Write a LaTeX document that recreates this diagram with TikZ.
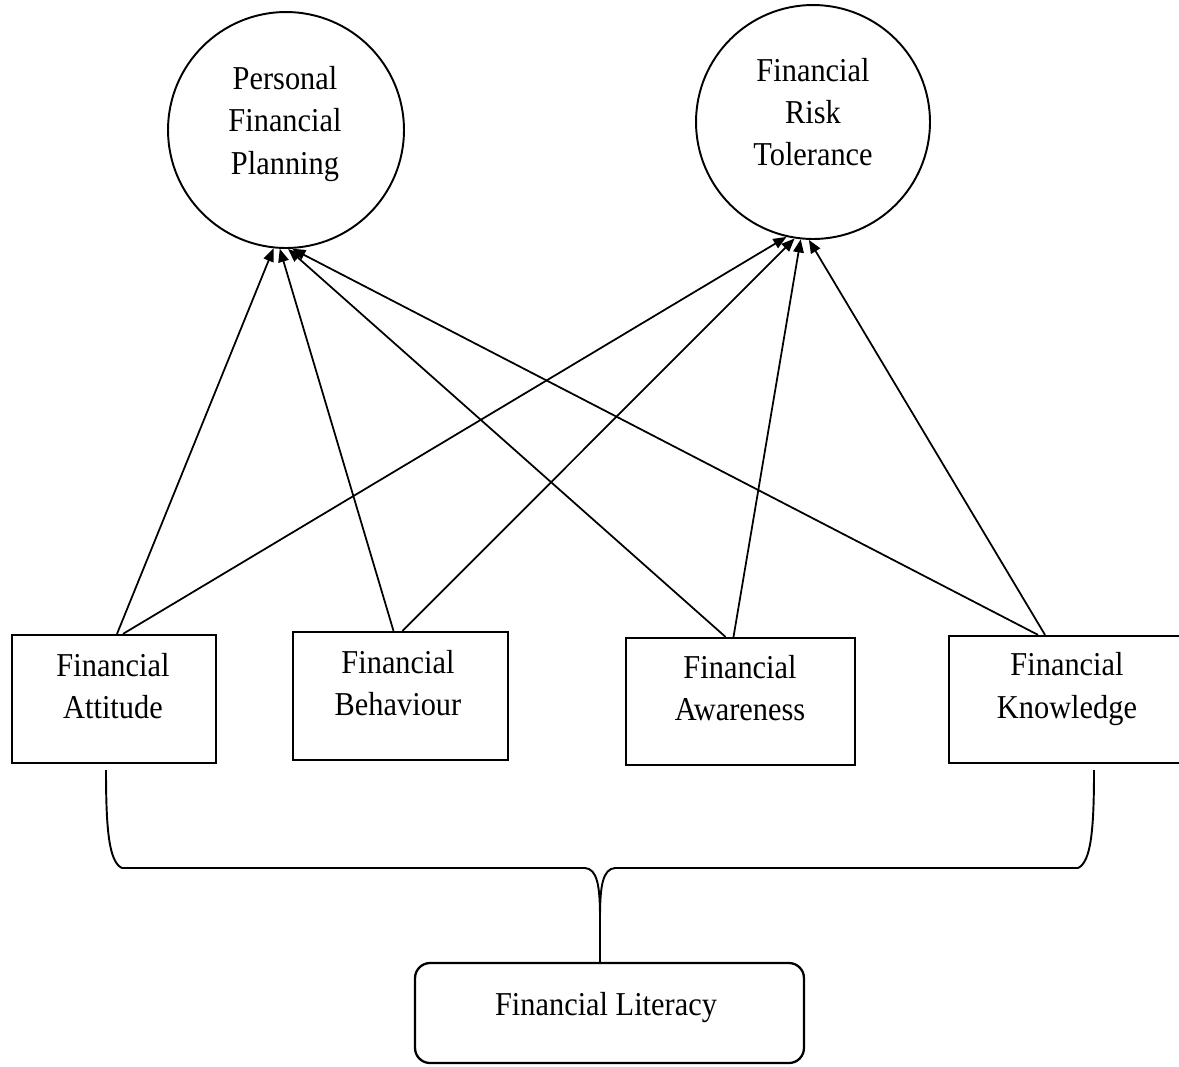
\documentclass[tikz,border=0pt]{standalone}
\usepackage{fontspec}
\setmainfont{Liberation Serif}[FakeStretch=0.91]
\usetikzlibrary{arrows.meta}
\begin{document}
\begin{tikzpicture}[x={(0.02cm,0)},y={(0,-0.02cm)},
  every node/.style={font=\fontsize{19}{24}\selectfont},
  latent/.style={draw,circle,line width=1.1pt,inner sep=0pt},
  obsbox/.style={draw,rectangle,line width=1.3pt,inner sep=0pt},
  litbox/.style={draw,rectangle,rounded corners=0.3cm,line width=1.3pt,inner sep=0pt},
  lbl/.style={align=center,inner sep=0pt},
  path/.style={draw,line width=1pt,-{Triangle[length=7.5pt,width=6pt]}},
  brace/.style={draw,line width=1.1pt}]
\useasboundingbox (0,0) rectangle (1179,1066);
% latent variables
\node[latent,minimum size=4.72cm] (ppp) at (286,130) {};
\node[lbl] (ppptxt) at (285,124) {Personal\\Financial\\Planning};
\node[latent,minimum size=4.68cm] (frt) at (813,122) {};
\node[lbl] (frttxt) at (813,112) {Financial\\Risk\\Tolerance};
% observed boxes
\node[obsbox,minimum width=4.08cm,minimum height=2.56cm] (att) at (114,699) {};
\node[lbl] (atttxt) at (113,686) {Financial\\Attitude};
\node[obsbox,minimum width=4.30cm,minimum height=2.56cm] (beh) at (400.5,696) {};
\node[lbl] (behtxt) at (398,683) {Financial\\Behaviour};
\node[obsbox,minimum width=4.58cm,minimum height=2.54cm] (awa) at (740.5,701.5) {};
\node[lbl] (awatxt) at (740,688) {Financial\\Awareness};
\node[obsbox,minimum width=4.80cm,minimum height=2.54cm] (kno) at (1069,699.5) {};
\node[lbl] (knotxt) at (1067,689) {Financial\\Knowledge};
% financial literacy
\node[litbox,minimum width=7.78cm,minimum height=2.0cm] (lit) at (609.5,1013) {};
\node[lbl] (littxt) at (606,1007) {Financial Literacy};
% paths to Personal Financial Planning
\path[path] ([xshift=0.06cm]att.north) -- (ppp.-96.8);
\path[path] ([xshift=-0.14cm]beh.north) -- (ppp.-93.4);
\path[path] ([xshift=-0.30cm]awa.north) -- (ppp.-89);
\path[path] ([xshift=-0.62cm]kno.north) -- (ppp.-87.1);
% paths to Financial Risk Tolerance
\path[path] ([xshift=0.18cm]att.north) -- (frt.-103.8);
\path[path] ([xshift=0.04cm]beh.north) -- (frt.-99.8);
\path[path] ([xshift=-0.14cm]awa.north) -- (frt.-96.4);
\path[path] ([xshift=-0.48cm]kno.north) -- (frt.-92.4);
% brace
\coordinate (bl) at (106,770);
\coordinate (br) at (1094,770);
\coordinate (cusp) at (600,917);
\coordinate (litin) at (600,962);
\path[brace] (bl) .. controls (106,830) and (109,862) .. (122,868)
  -- (585,868) .. controls (597,869) and (600,885) .. (cusp) -- (litin);
\path[brace] (br) .. controls (1094,830) and (1091,862) .. (1078,868)
  -- (615,868) .. controls (603,869) and (600,885) .. (cusp);
\end{tikzpicture}
\end{document}
